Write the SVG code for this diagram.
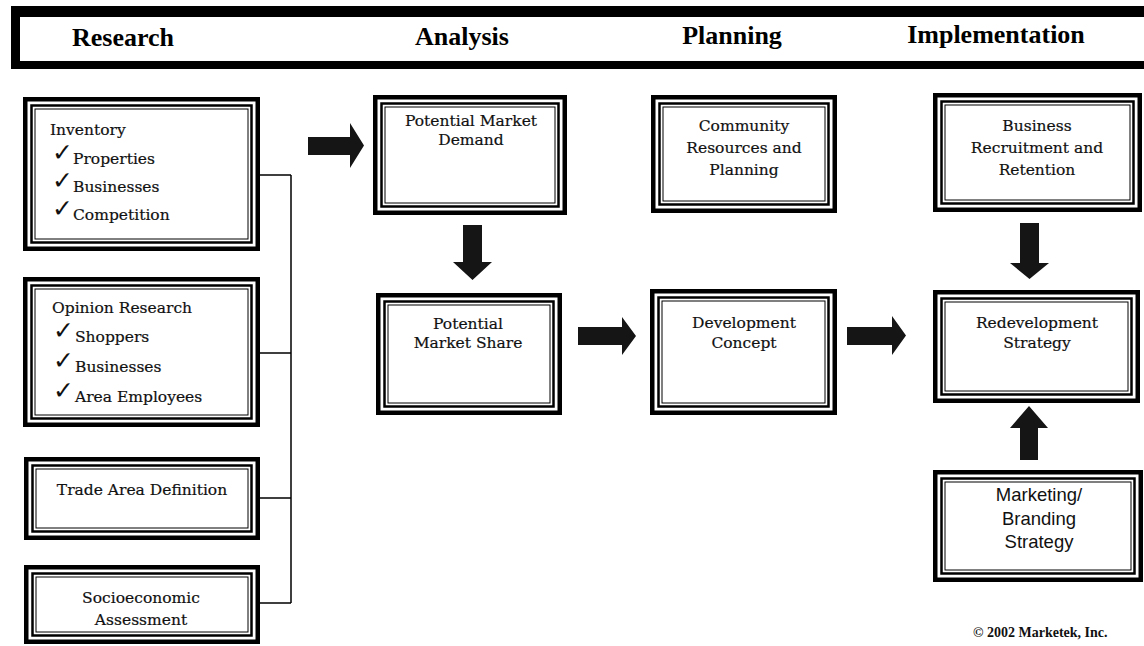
<svg xmlns="http://www.w3.org/2000/svg" width="1144" height="646" viewBox="0 0 1144 646">
  <style>
    .f1 { fill: #fff; stroke: #000; stroke-width: 4.5; }
    .f2 { fill: none; stroke: #000; stroke-width: 2.5; }
    .f3 { fill: none; stroke: #000; stroke-width: 1; }
    .hd { font-family: "Liberation Serif", "Times New Roman", serif; font-weight: bold; font-size: 26px; fill: #000; text-anchor: middle; }
    .tx { font-family: "DejaVu Serif", "Liberation Serif", serif; font-size: 15.5px; fill: #111; stroke: #111; stroke-width: 0.2; }
    .c { text-anchor: middle; }
    .ck { font-family: "DejaVu Sans", sans-serif; font-size: 25px; fill: #111; }
    .sans { font-family: "Liberation Sans", Arial, sans-serif; font-size: 18.5px; fill: #111; text-anchor: middle; }
    .cp { font-family: "Liberation Serif", "Times New Roman", serif; font-weight: bold; font-size: 14px; fill: #111; }
    .ln { stroke: #000; stroke-width: 1.5; fill: none; }
    .ar { fill: #151515; }
  </style>

  <!-- phase header band -->
  <g id="header">
    <rect x="11" y="6" width="1140" height="63" fill="#000"/>
    <rect x="20" y="17" width="1130" height="44" fill="#fff"/>
    <text class="hd" x="123" y="46">Research</text>
    <text class="hd" x="462" y="45">Analysis</text>
    <text class="hd" x="732" y="44">Planning</text>
    <text class="hd" x="996" y="43">Implementation</text>
  </g>

  <!-- connectors: bracket and block arrows -->
  <g id="connectors">
    <path class="ln" d="M260 175 H291 M260 353 H291 M260 498 H291 M260 603 H291 M291 175 V603"/>
    <polygon class="ar" points="308,137 350,137 350,123 364,145.5 350,168 350,155 308,155"/>
    <polygon class="ar" points="463,225 482,225 482,262 492,262 472.5,280 453,262 463,262"/>
    <polygon class="ar" points="578,327 622,327 622,317 636,336 622,355 622,345 578,345"/>
    <polygon class="ar" points="847,327 892,327 892,316 906,335.5 892,355 892,345 847,345"/>
    <polygon class="ar" points="1020,223 1039,223 1039,263 1049,263 1029.5,279 1010,263 1020,263"/>
    <polygon class="ar" points="1020,460 1038,460 1038,428 1048,428 1029,406 1010,428 1020,428"/>
  </g>

  <!-- Research column -->
  <g id="inventory">
    <rect class="f1" x="25.25" y="99.25" width="232.5" height="149.5"/>
    <rect class="f2" x="31.5" y="105.5" width="220" height="137"/>
    <rect class="f3" x="35" y="109" width="213" height="130"/>
    <text class="tx" x="50" y="135">Inventory</text>
    <text class="ck" x="52" y="161">✓</text><text class="tx" x="73" y="164">Properties</text>
    <text class="ck" x="52" y="189">✓</text><text class="tx" x="73" y="192">Businesses</text>
    <text class="ck" x="52" y="217">✓</text><text class="tx" x="73" y="220">Competition</text>
  </g>

  <g id="opinion">
    <rect class="f1" x="25.25" y="279.25" width="232.5" height="145.5"/>
    <rect class="f2" x="31.5" y="285.5" width="220" height="133"/>
    <rect class="f3" x="35" y="289" width="213" height="126"/>
    <text class="tx" x="52" y="313">Opinion Research</text>
    <text class="ck" x="53" y="339">✓</text><text class="tx" x="75" y="342">Shoppers</text>
    <text class="ck" x="53" y="369">✓</text><text class="tx" x="75" y="372">Businesses</text>
    <text class="ck" x="53" y="399">✓</text><text class="tx" x="75" y="402">Area Employees</text>
  </g>

  <g id="trade-area">
    <rect class="f1" x="26.25" y="459.25" width="231.5" height="78.5"/>
    <rect class="f2" x="32.5" y="465.5" width="219" height="66"/>
    <rect class="f3" x="36" y="469" width="212" height="59"/>
    <text class="tx c" x="142" y="495">Trade Area Definition</text>
  </g>

  <g id="socioeconomic">
    <rect class="f1" x="26.25" y="567.25" width="231.5" height="74.5"/>
    <rect class="f2" x="32.5" y="573.5" width="219" height="62"/>
    <rect class="f3" x="36" y="577" width="212" height="55"/>
    <text class="tx c" x="141" y="603">Socioeconomic</text>
    <text class="tx c" x="141" y="625">Assessment</text>
  </g>

  <!-- Analysis column -->
  <g id="market-demand">
    <rect class="f1" x="375.25" y="97.25" width="189.5" height="115.5"/>
    <rect class="f2" x="381.5" y="103.5" width="177" height="103"/>
    <rect class="f3" x="385" y="107" width="170" height="96"/>
    <text class="tx c" x="471" y="126">Potential Market</text>
    <text class="tx c" x="471" y="145">Demand</text>
  </g>

  <g id="market-share">
    <rect class="f1" x="378.25" y="295.25" width="181.5" height="117.5"/>
    <rect class="f2" x="384.5" y="301.5" width="169" height="105"/>
    <rect class="f3" x="388" y="305" width="162" height="98"/>
    <text class="tx c" x="468" y="329">Potential</text>
    <text class="tx c" x="468" y="348">Market Share</text>
  </g>

  <!-- Planning column -->
  <g id="community">
    <rect class="f1" x="653.25" y="97.25" width="181.5" height="113.5"/>
    <rect class="f2" x="659.5" y="103.5" width="169" height="101"/>
    <rect class="f3" x="663" y="107" width="162" height="94"/>
    <text class="tx c" x="744" y="131">Community</text>
    <text class="tx c" x="744" y="153">Resources and</text>
    <text class="tx c" x="744" y="175">Planning</text>
  </g>

  <g id="development">
    <rect class="f1" x="652.25" y="291.25" width="182.5" height="121.5"/>
    <rect class="f2" x="658.5" y="297.5" width="170" height="109"/>
    <rect class="f3" x="662" y="301" width="163" height="102"/>
    <text class="tx c" x="744" y="328">Development</text>
    <text class="tx c" x="744" y="348">Concept</text>
  </g>

  <!-- Implementation column -->
  <g id="recruitment">
    <rect class="f1" x="935.25" y="95.25" width="204.5" height="114.5"/>
    <rect class="f2" x="941.5" y="101.5" width="192" height="102"/>
    <rect class="f3" x="945" y="105" width="185" height="95"/>
    <text class="tx c" x="1037" y="131">Business</text>
    <text class="tx c" x="1037" y="153">Recruitment and</text>
    <text class="tx c" x="1037" y="175">Retention</text>
  </g>

  <g id="redevelopment">
    <rect class="f1" x="935.25" y="292.25" width="202.5" height="108.5"/>
    <rect class="f2" x="941.5" y="298.5" width="190" height="96"/>
    <rect class="f3" x="945" y="302" width="183" height="89"/>
    <text class="tx c" x="1037" y="328">Redevelopment</text>
    <text class="tx c" x="1037" y="348">Strategy</text>
  </g>

  <g id="marketing">
    <rect class="f1" x="935.25" y="472.25" width="205.5" height="107.5"/>
    <rect class="f2" x="941.5" y="478.5" width="193" height="95"/>
    <rect class="f3" x="945" y="482" width="186" height="88"/>
    <text class="sans" x="1039" y="501">Marketing/</text>
    <text class="sans" x="1039" y="525">Branding</text>
    <text class="sans" x="1039" y="548">Strategy</text>
  </g>

  <text class="cp" x="973" y="637">© 2002 Marketek, Inc.</text>
</svg>
